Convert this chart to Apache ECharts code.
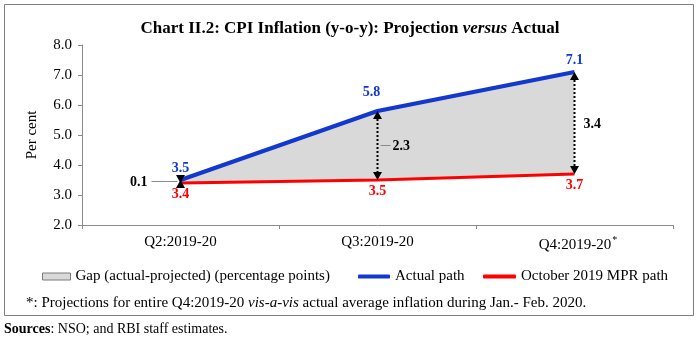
<!DOCTYPE html>
<html>
<head>
<meta charset="utf-8">
<script src="https://cdn.jsdelivr.net/npm/echarts@6/dist/echarts.min.js"></script>
<style>
  html, body { margin: 0; padding: 0; background: #fff; }
  #chart { width: 700px; height: 342px; }
</style>
</head>
<body>
<div id="chart"></div>
<script>
// Quarters on the x-axis
const quarters = ['Q2:2019-20', 'Q3:2019-20', 'Q4:2019-20'];
// CPI inflation, y-o-y, per cent
const actualPath = [3.5, 5.8, 7.1];
const mprPath = [3.4, 3.5, 3.7];
// Gap between actual and projected, percentage points
const gapPoints = [0.1, 2.3, 3.4];
// Y-axis range
const yMin = 2.0, yMax = 8.0, yStep = 1.0;

const SERIF = '"Liberation Serif", "Times New Roman", serif';
const BLUE = '#1238cf';
const RED = '#ff0000';
const AXIS = '#8a8a8a';

const chart = echarts.init(document.getElementById('chart'), null, { renderer: 'canvas' });

// Dotted double-headed arrow spanning the gap at each quarter, with its value
function renderGapArrow(params, api) {
  const i = api.value(0);
  const lo = api.coord([i, api.value(1)]);
  const hi = api.coord([i, api.value(2)]);
  const gapText = api.value(3).toFixed(1);
  const x = hi[0], yTop = hi[1], yBot = lo[1];
  const ah = 8, aw = 4.5;
  const children = [];
  if (yBot - yTop > 2 * ah) {
    children.push({
      type: 'line',
      shape: { x1: x, y1: yTop + ah, x2: x, y2: yBot - ah },
      style: { stroke: '#000', lineWidth: 2, lineDash: [2, 2] }
    });
  }
  children.push({
    type: 'polygon',
    shape: { points: [[x, yTop], [x - aw, yTop + ah], [x + aw, yTop + ah]] },
    style: { fill: '#000' }
  });
  children.push({
    type: 'polygon',
    shape: { points: [[x, yBot], [x - aw, yBot - ah], [x + aw, yBot - ah]] },
    style: { fill: '#000' }
  });
  const yMid = (yTop + yBot) / 2;
  const textStyle = { fontFamily: SERIF, fontSize: 14, fontWeight: 'bold', fill: '#000', verticalAlign: 'middle' };
  if (i === 0) {
    // label sits to the left with a leader line
    children.push({ type: 'line', shape: { x1: x - 29, y1: yMid, x2: x - 3, y2: yMid }, style: { stroke: AXIS, lineWidth: 1 } });
    children.push({ type: 'text', style: Object.assign({ x: x - 33, y: yMid + 1, text: gapText, align: 'right' }, textStyle) });
  } else if (i === 1) {
    children.push({ type: 'line', shape: { x1: x + 3, y1: yMid, x2: x + 13, y2: yMid }, style: { stroke: AXIS, lineWidth: 1 } });
    children.push({ type: 'text', style: Object.assign({ x: x + 15, y: yMid + 1, text: gapText, align: 'left' }, textStyle) });
  } else {
    children.push({ type: 'text', style: Object.assign({ x: x + 9, y: yMid + 1, text: gapText, align: 'left' }, textStyle) });
  }
  return { type: 'group', children: children };
}

const legendText = { fontFamily: SERIF, fontSize: 15, color: '#000' };

const option = {
  animation: false,
  backgroundColor: '#fff',
  title: {
    text: 'Chart II.2: CPI Inflation (y-o-y): Projection {it|versus} Actual',
    left: 'center',
    top: 15,
    textStyle: {
      fontFamily: SERIF, fontSize: 17, fontWeight: 'bold', color: '#000',
      rich: { it: { fontFamily: SERIF, fontSize: 17, fontWeight: 'bold', fontStyle: 'italic', color: '#000' } }
    }
  },
  grid: { left: 82, right: 27, top: 45, bottom: 117 },
  legend: [
    {
      data: [{ name: 'Gap (actual-projected) (percentage points)', icon: 'rect',
        itemStyle: { color: '#d9d9d9', borderColor: '#7a7a7a', borderWidth: 1 } }],
      left: 37, top: 264, itemWidth: 28, itemHeight: 7, textStyle: legendText, selectedMode: false
    },
    {
      data: [{ name: 'Actual path', icon: 'roundRect', itemStyle: { color: BLUE } }],
      left: 353, top: 264, itemWidth: 32, itemHeight: 4, textStyle: legendText, selectedMode: false
    },
    {
      data: [{ name: 'October 2019 MPR path', icon: 'roundRect', itemStyle: { color: RED } }],
      left: 478, top: 264, itemWidth: 33, itemHeight: 4, textStyle: legendText, selectedMode: false
    }
  ],
  xAxis: {
    type: 'category',
    data: quarters,
    boundaryGap: true,
    axisLine: { lineStyle: { color: AXIS, width: 1 } },
    axisTick: { show: true, length: 4, inside: false, lineStyle: { color: AXIS } },
    axisLabel: {
      margin: 10,
      fontFamily: SERIF, fontSize: 15, color: '#000',
      formatter: function (v, idx) { return idx === quarters.length - 1 ? '{sp|}' + v + '{sup|*}' : v; },
      rich: {
        sp: { width: 7 },
        sup: { fontFamily: SERIF, fontSize: 10, color: '#000', verticalAlign: 'top', padding: [0, 0, 10, 1] }
      }
    }
  },
  yAxis: {
    type: 'value',
    min: yMin, max: yMax, interval: yStep,
    name: 'Per cent',
    nameLocation: 'middle',
    nameRotate: 90,
    nameGap: 42,
    nameTextStyle: { fontFamily: SERIF, fontSize: 15, color: '#000' },
    axisLine: { show: true, lineStyle: { color: AXIS, width: 1 } },
    axisTick: { show: true, length: 4, lineStyle: { color: AXIS } },
    splitLine: { show: false },
    axisLabel: {
      margin: 10,
      fontFamily: SERIF, fontSize: 15, color: '#000',
      formatter: function (v) { return v.toFixed(1); }
    }
  },
  series: [
    {
      name: 'October 2019 MPR path',
      type: 'line',
      stack: 'gap',
      data: mprPath,
      symbol: 'circle',
      symbolSize: 0,
      showSymbol: true,
      z: 4,
      lineStyle: { color: RED, width: 3 },
      itemStyle: { color: RED },
      label: {
        show: true, position: 'bottom', distance: 4,
        fontFamily: SERIF, fontSize: 14, fontWeight: 'bold', color: RED,
        formatter: function (p) { return mprPath[p.dataIndex].toFixed(1); }
      }
    },
    {
      name: 'Gap (actual-projected) (percentage points)',
      type: 'line',
      stack: 'gap',
      data: gapPoints,
      symbol: 'none',
      z: 1,
      lineStyle: { width: 0, opacity: 0 },
      itemStyle: { color: '#d9d9d9' },
      areaStyle: { color: '#d9d9d9', opacity: 1 }
    },
    {
      name: 'Actual path',
      type: 'line',
      data: actualPath.map(function (v, i) {
        return i === 1 ? { value: v, label: { offset: [-6, -7] } } : v;
      }),
      symbol: 'circle',
      symbolSize: 0,
      showSymbol: true,
      z: 5,
      lineStyle: { color: BLUE, width: 4 },
      itemStyle: { color: BLUE },
      label: {
        show: true, position: 'top', distance: 5,
        fontFamily: SERIF, fontSize: 14, fontWeight: 'bold', color: BLUE,
        formatter: function (p) { return actualPath[p.dataIndex].toFixed(1); }
      }
    },
    {
      name: 'gap-arrows',
      type: 'custom',
      z: 6,
      silent: true,
      data: quarters.map(function (q, i) { return [i, mprPath[i], actualPath[i], gapPoints[i]]; }),
      encode: { x: 0, y: [1, 2] },
      renderItem: renderGapArrow
    }
  ],
  graphic: [
    {
      type: 'rect',
      shape: { x: 4.5, y: 4.5, width: 689, height: 311 },
      style: { fill: 'none', stroke: '#7f7f7f', lineWidth: 1 },
      z: -1, silent: true
    },
    {
      type: 'text',
      left: 26, top: 296,
      style: {
        text: '*: Projections for entire Q4:2019-20 {it|vis-a-vis} actual average inflation during Jan.- Feb. 2020.',
        fontFamily: SERIF, fontSize: 15, fill: '#000',
        rich: { it: { fontFamily: SERIF, fontSize: 15, fontStyle: 'italic', fill: '#000' } }
      }
    },
    {
      type: 'text',
      left: 4, top: 322,
      style: {
        text: '{b|Sources}: NSO; and RBI staff estimates.',
        fontFamily: SERIF, fontSize: 14, fill: '#000',
        rich: { b: { fontFamily: SERIF, fontSize: 14, fontWeight: 'bold', fill: '#000' } }
      }
    }
  ]
};

chart.setOption(option);
</script>
</body>
</html>
